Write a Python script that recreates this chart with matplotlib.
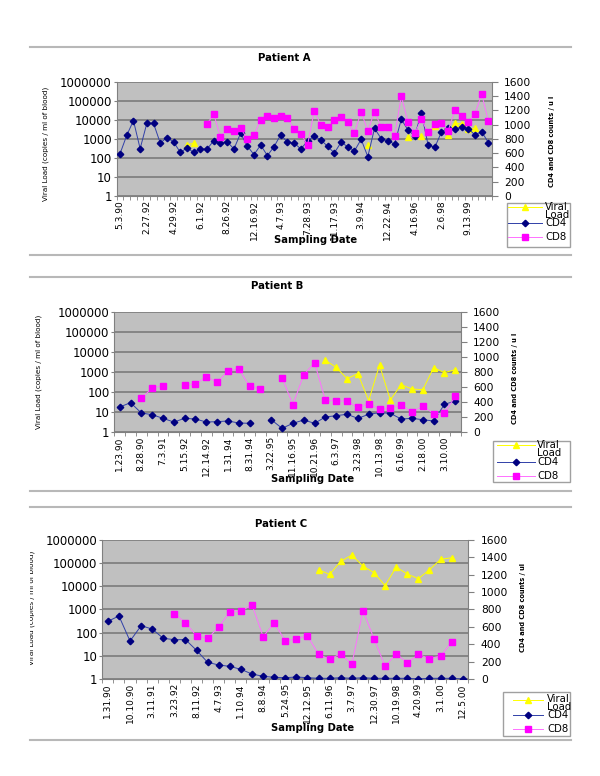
import numpy as np
import matplotlib
matplotlib.use('Agg')
import matplotlib.pyplot as plt
from matplotlib.lines import Line2D
from matplotlib.patches import Rectangle
from matplotlib.ticker import NullLocator
from matplotlib.transforms import Bbox, TransformedBbox

# ---------------- data ----------------
# Patient A: 56 sampling dates, a label every 4th date
a_ticklabels = ['5.3.90', '2.27.92', '4.29.92', '6.1.92', '8.26.92', '12.16.92', '4.7.93',
                '7.28.93', '11.17.93', '3.9.94', '12.22.94', '4.16.96', '2.6.98', '9.13.99']
a_cd4 = [593, 849, 1055, 663, 1017, 1017, 742, 817, 756, 611, 672, 611, 658, 658, 775, 742,
         761, 658, 877, 700, 579, 714, 565, 691, 859, 751, 742, 658, 770, 840, 784, 695,
         602, 751, 691, 630, 793, 551, 947, 803, 770, 728, 1073, 924, 840, 1167, 714, 681,
         896, 957, 933, 966, 943, 854, 901, 747]
a_cd8 = [None] * 13 + [1013, 1143, 826, 933, 910, 947, 803, 849, 1069, 1125, 1092, 1125, 1097,
                       933, 868, 714, 1195, 989, 966, 1059, 1101, 1036, 877, 1181, 910, 1181,
                       966, 966, 840, 1400, 1036, 877, 1073, 891, 1003, 1022, 915, 1199, 1125,
                       1041, 1148, 1428, 1050]
a_vl = [None] * 10 + [473, 602] + [None] * 25 + [473] + [None] * 5 + [1190, None, 1400, None,
                                                                      4700, None, 1580, 6500,
                                                                      6200, 3100, 3700, None, None]

# Patient B: 32 sampling dates, a label every 2nd date
b_ticklabels = ['1.23.90', '8.28.90', '7.3.91', '5.15.92', '12.14.92', '1.31.94', '8.31.94',
                '3.22.95', '11.16.95', '10.21.96', '6.3.97', '3.23.98', '10.13.98', '6.16.99',
                '2.18.00', '3.10.00']
b_cd4 = [333, 391, 253, 231, 182, 133, 182, 173, 133, 138, 147, 120, 116, None, 164, 49,
         116, 160, 116, 200, 218, 236, 182, 236, 258, 249, 173, 182, 164, 147, 369, 413]
b_cd8 = [None, None, 449, 587, 618, None, 627, 636, 738, 662, 813, 840, 609, 578, None, 724,
         364, 764, 924, 422, 413, 413, 329, 378, 302, 320, 360, 267, 347, 244, 253, 476]
b_vl = [None] * 19 + [3830, 1710, 464, 826, 37, 2240, 40, 233, 141, 131, 1650, 926, 1310]

# Patient C: 33 sampling dates, a label every 2nd date
c_ticklabels = ['1.31.90', '10.10.90', '3.11.91', '3.23.92', '8.11.92', '4.7.93', '1.10.94',
                '8.8.94', '5.24.95', '12.12.95', '6.11.96', '3.7.97', '12.30.97', '10.19.98',
                '4.20.99', '3.1.00', '12.5.00']
c_cd4 = [662, 724, 436, 612, 574, 467, 452, 452, 329, 191, 161, 145, 111, 57, 31, 19, 15,
         23, 15, 8, 8, 15, 8, 15, 8, 8, 8, 8, 0, 8, 8, 8, 0]
c_cd8 = [None] * 6 + [750, 647, 494, 467, 597, 769, 777, 854, 486, 643, 440, 459, 498, 283,
                      226, 291, 168, 785, 463, 145, 291, 184, 283, 234, 264, 425, None]
c_vl = [None] * 19 + [51000, 32000, 117000, 218000, 73000, 38000, 10500, 66500, 33000,
                      21000, 51000, 142000, 168000, None]

W, H = 600, 776
GRAY = '#808080'
NAVY = '#000080'
PINK = '#ff00ff'
YELLOW = '#ffff00'

fig = plt.figure(figsize=(W / 100, H / 100), dpi=100)
fig.patch.set_facecolor('white')


def fx(x):
    return x / W


def fy(y):
    return 1 - y / H


def draw_panel(box, title, cd4, cd8, vl, ticklabels, step, pos, rlabel):
    left, top, right, bottom = box
    n = len(cd4)
    x = np.arange(n)
    ax = fig.add_axes([fx(left), fy(bottom), (right - left) / W, (bottom - top) / H])
    ax.set_facecolor('#c0c0c0')
    ax.set_yscale('log')
    ax.set_ylim(1, 1e6)
    ax.set_xlim(-0.5, n - 0.5)
    ax.yaxis.set_minor_locator(NullLocator())
    ax.set_yticks([1, 10, 100, 1000, 10000, 100000, 1000000])
    ax.set_yticklabels(['1', '10', '100', '1000', '10000', '100000', '1000000'], fontsize=8.5)
    ax.yaxis.grid(True, color=GRAY, lw=1.3)
    ax.set_axisbelow(True)
    ax.tick_params(axis='y', length=2, pad=1.5, color=GRAY)
    ax.set_xticks(x[::step])
    ax.set_xticklabels(ticklabels, rotation=90, fontsize=6.5)
    ax.set_xticks(np.arange(n + 1) - 0.5, minor=True)
    ax.tick_params(axis='x', which='major', length=0, pad=3)
    ax.tick_params(axis='x', which='minor', length=3, color=GRAY)
    for s in ['top', 'right']:
        ax.spines[s].set_visible(False)
    for s in ['left', 'bottom']:
        ax.spines[s].set_color(GRAY)

    ax.plot(x, np.array(vl, dtype=float), color=YELLOW, lw=0.7, marker='^', ms=4.5,
            mec=YELLOW, mfc=YELLOW, zorder=3)

    ax2 = ax.twinx()
    ax2.set_ylim(0, 1600)
    ax2.set_yticks(range(0, 1601, 200))
    ax2.tick_params(axis='y', length=4, pad=5, labelsize=7.7, color=GRAY)
    for s in ['top', 'left', 'bottom']:
        ax2.spines[s].set_visible(False)
    ax2.spines['right'].set_color(GRAY)
    ax2.plot(x, np.array(cd4, dtype=float), color='#3040a8', lw=0.7, marker='D', ms=3.3,
             mec=NAVY, mfc=NAVY)
    ax2.plot(x, np.array(cd8, dtype=float), color='#ff70ff', lw=0.7, marker='s', ms=4.3,
             mec=PINK, mfc=PINK)

    fig.text(fx(pos['title'][0]), fy(pos['title'][1]), title, ha='center', va='center',
             fontsize=7.3, fontweight='bold')
    fig.text(fx(pos['xlabel'][0]), fy(pos['xlabel'][1]), 'Sampling Date', ha='center',
             va='center', fontsize=7.2, fontweight='bold')
    yl = fig.text(fx(pos['ylabel'][0]), fy(pos['ylabel'][1]), 'Viral Load (copies / ml of blood)',
                  ha='center', va='center', rotation=90, fontsize=5.2)
    # the third chart is cut at the left edge in the original
    clip = TransformedBbox(Bbox([[fx(30), 0], [1, 1]]), fig.transFigure)
    yl.set_clip_box(clip)
    yl.set_clip_on(True)
    fig.text(fx(pos['rlabel'][0]), fy(pos['rlabel'][1]), rlabel, ha='center', va='center',
             rotation=90, fontsize=4.8, fontweight='bold')

    # legend box
    lx0, ly0, lx1, ly1 = pos['legend']
    fig.add_artist(Rectangle((fx(lx0), fy(ly1)), (lx1 - lx0) / W, (ly1 - ly0) / H,
                             transform=fig.transFigure, facecolor='white', edgecolor='#a0a0a0',
                             lw=1))
    mx0, mx1, tx = pos['lmark']
    ys = pos['ly']
    for yy, c, lc, m, ms in [(ys[0], YELLOW, YELLOW, '^', 4.5), (ys[2], NAVY, '#3040a8', 'D', 3.3),
                             (ys[4], PINK, '#ff70ff', 's', 4.3)]:
        fig.add_artist(Line2D([fx(mx0), fx(mx1)], [fy(yy), fy(yy)], transform=fig.transFigure,
                              color=lc, lw=0.7))
        fig.add_artist(Line2D([fx((mx0 + mx1) / 2)], [fy(yy)], transform=fig.transFigure,
                              marker=m, ms=ms, color=c, lw=0))
    for txt, yy in zip(['Viral', 'Load', 'CD4', 'CD8'], [ys[0], ys[1], ys[2], ys[4]]):
        fig.text(fx(tx), fy(yy), txt, ha='left', va='center', fontsize=7.3)


draw_panel((116.7, 81.7, 491.7, 196.0), 'Patient A', a_cd4, a_cd8, a_vl, a_ticklabels, 4,
           {'title': (284, 58), 'xlabel': (316, 240), 'ylabel': (46, 144),
            'rlabel': (552, 141.5), 'legend': (507, 203, 570, 247),
            'lmark': (508, 542, 545), 'ly': (207, 215.5, 223, 223, 237)},
           'CD4 and CD8 counts / u l')
draw_panel((114.3, 312, 460.7, 432), 'Patient B', b_cd4, b_cd8, b_vl, b_ticklabels, 2,
           {'title': (277.5, 285.7), 'xlabel': (313, 479), 'ylabel': (38.3, 372),
            'rlabel': (515.5, 378), 'legend': (493, 441, 570, 482),
            'lmark': (497, 535, 537), 'ly': (445, 453.5, 462, 462, 476)},
           'CD4 and CD8 counts / u l')
draw_panel((102.3, 539.7, 468.3, 679), 'Patient C', c_cd4, c_cd8, c_vl, c_ticklabels, 2,
           {'title': (281, 524), 'xlabel': (313, 728), 'ylabel': (32, 608),
            'rlabel': (523, 608), 'legend': (503, 692, 570, 736),
            'lmark': (513, 543, 547), 'ly': (699.5, 707.5, 715, 715, 729.3)},
           'CD4 and CD8 counts / ul')

# chart-area border lines between the panels
for yy in [47.3, 255, 277, 491, 507, 740]:
    fig.add_artist(Line2D([fx(30), fx(571)], [fy(yy), fy(yy)], transform=fig.transFigure,
                          color='#b8b8b8', lw=1.5))

fig.savefig('out.png', dpi=100)
